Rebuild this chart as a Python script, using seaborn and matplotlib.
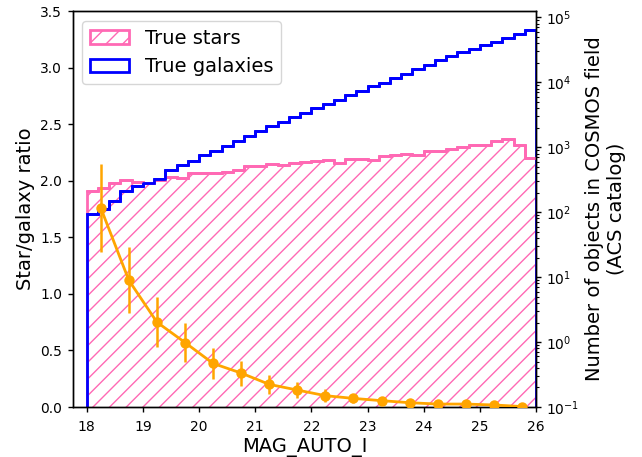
import numpy as np
import matplotlib
matplotlib.use("Agg")
import matplotlib.pyplot as plt
import seaborn as sns
from matplotlib.patches import Patch
from matplotlib.ticker import LogLocator, NullFormatter

# histogram bins (MAG_AUTO_I), 0.2 mag wide
edges = np.round(np.arange(18.0, 26.0001, 0.2), 2)
centers = (edges[:-1] + edges[1:]) / 2

galaxies = [94, 111, 151, 215, 254, 279, 322, 448, 531, 622,
            762, 887, 1059, 1265, 1494, 1800, 2127, 2477, 2895, 3407,
            3981, 4634, 5341, 6378, 7430, 8776, 9860, 11530, 13430, 15850,
            18460, 22030, 25410, 29580, 32550, 37500, 42170, 47540, 55340, 63850]
stars = [215, 234, 285, 314, 296, 285, 314, 353, 334, 407,
         407, 398, 421, 448, 515, 515, 553, 535, 567, 600,
         615, 638, 567, 653, 653, 638, 735, 762, 789, 762,
         877, 877, 931, 1021, 1074, 1074, 1264, 1328, 1074, 677]

# star/galaxy ratio in 0.5 mag bins
ratio_mag = [18.25, 18.75, 19.25, 19.75, 20.25, 20.75, 21.25, 21.75,
             22.25, 22.75, 23.25, 23.75, 24.25, 24.75, 25.25, 25.75]
ratio = [1.76, 1.12, 0.75, 0.57, 0.385, 0.30, 0.20, 0.15,
         0.10, 0.076, 0.056, 0.038, 0.026, 0.026, 0.018, 0.004]
ratio_err = [0.39, 0.29, 0.22, 0.175, 0.135, 0.11, 0.085, 0.074,
             0.06, 0.04, 0.03, 0.02, 0.015, 0.012, 0.01, 0.005]

star_col = "hotpink"
gal_col = "blue"

sns.set_style("ticks", rc={"axes.edgecolor": "black", "text.color": "black",
                           "axes.labelcolor": "black", "xtick.color": "black",
                           "ytick.color": "black"})
plt.rcParams["font.family"] = ["DejaVu Sans"]
plt.rcParams["hatch.linewidth"] = 1.0

fig = plt.figure(figsize=(6.42, 4.57), dpi=100)
ax = fig.add_axes([0.1132, 0.1094, 0.7217, 0.8665])
ax2 = ax.twinx()
ax2.set_zorder(ax.get_zorder() - 1)
ax.patch.set_visible(False)

# counts (right axis, log)
ax2.set_yscale("log")
ax2.stairs(stars, edges, baseline=1e-3, fill=False, hatch="//",
           edgecolor=star_col, linewidth=2)
sns.histplot(x=centers, weights=stars, binwidth=0.2, binrange=(18, 26),
             element="step", fill=False, color=star_col, linewidth=2, ax=ax2)
ax2.stairs(galaxies, edges, baseline=1e-3, fill=False,
           edgecolor=gal_col, linewidth=2)
sns.histplot(x=centers, weights=galaxies, binwidth=0.2, binrange=(18, 26),
             element="step", fill=False, color=gal_col, linewidth=2, ax=ax2)
ax2.set_ylim(1e-1, 1.25e5)
ax2.yaxis.set_minor_locator(LogLocator(base=10, subs=np.arange(2, 10), numticks=20))
ax2.yaxis.set_minor_formatter(NullFormatter())
ax2.set_xlabel("")
ax2.set_ylabel("Number of objects in COSMOS field\n(ACS catalog)", fontsize=14)

# ratio (left axis)
ax.errorbar(ratio_mag, ratio, yerr=ratio_err, fmt="none", ecolor="orange",
            elinewidth=1.8, zorder=3)
sns.lineplot(x=ratio_mag, y=ratio, color="orange", marker="o", markersize=7.5,
             markeredgewidth=0, linewidth=2, ax=ax, zorder=4)
ax.set_xlim(17.75, 26)
ax.set_xticks(range(18, 27))
ax.set_ylim(0, 3.5)
ax.set_xlabel("MAG_AUTO_I", fontsize=14, labelpad=3)
ax.set_ylabel("Star/galaxy ratio", fontsize=14)
ax.xaxis.offsetText.set_visible(False)

for a in (ax, ax2):
    for s in a.spines.values():
        s.set_visible(True)
        s.set_linewidth(1)
    a.tick_params(which="major", labelsize=10, length=3.5, width=1, pad=4)
ax.tick_params(axis="x", pad=6)
ax2.tick_params(which="minor", length=2, width=0.8)

handles = [Patch(facecolor="none", edgecolor=star_col, hatch="//", linewidth=2),
           Patch(facecolor="none", edgecolor=gal_col, linewidth=2)]
ax2.legend(handles, ["True stars", "True galaxies"], loc="upper left",
           fontsize=14, frameon=True)

fig.savefig("out.png", dpi=100)
